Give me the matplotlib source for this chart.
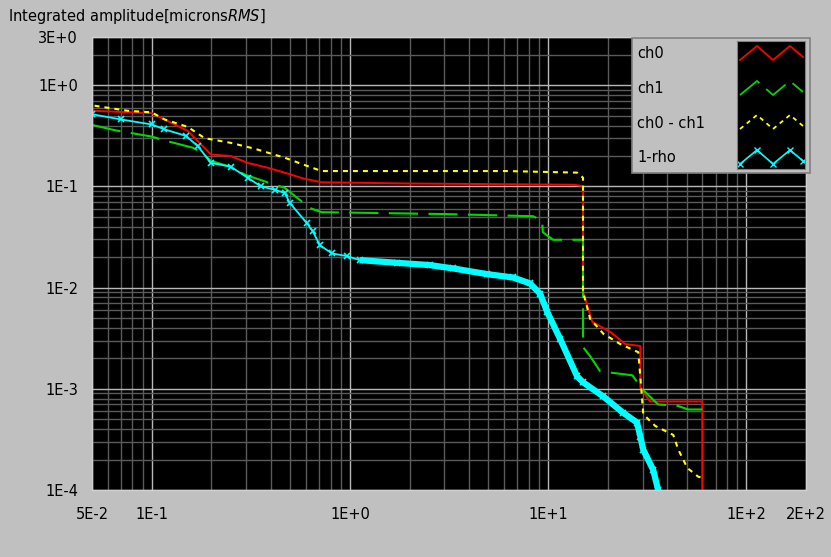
import matplotlib
matplotlib.use('Agg')
import matplotlib.pyplot as plt
from matplotlib.patches import Rectangle

# data (log-log)
ch0_x = [0.05, 0.1, 0.152, 0.199, 0.25, 0.305, 0.385, 0.486, 0.58, 0.72, 1.94, 13.4,
         15.0, 15.0, 16.7, 20.6, 24.5, 29.2, 29.2, 32.7, 60, 60]
ch0_y = [0.56, 0.53, 0.354, 0.207, 0.2, 0.171, 0.153, 0.134, 0.12, 0.110, 0.107, 0.104,
         0.101, 0.0091, 0.00459, 0.00365, 0.00277, 0.00265, 0.00103, 0.00075, 0.00075, 5e-5]

ch1_x = [0.05, 0.065, 0.101, 0.116, 0.162, 0.183, 0.199, 0.25, 0.295, 0.394, 0.47, 0.628,
         0.72, 3.09, 8.4, 9.33, 9.4, 10.6, 13.4, 15.0, 15.0, 16.3, 18.3, 26.6, 29.9, 35.9,
         44.9, 51, 60]
ch1_y = [0.406, 0.36, 0.31, 0.285, 0.241, 0.207, 0.179, 0.156, 0.131, 0.108, 0.0967, 0.0612,
         0.0557, 0.0533, 0.0508, 0.0457, 0.0353, 0.0297, 0.0297, 0.0297, 0.00259, 0.0021,
         0.00149, 0.00136, 0.00099, 0.0007, 0.00068, 0.000625, 0.000625]

diff_x = [0.0515, 0.0757, 0.1, 0.116, 0.152, 0.185, 0.25, 0.331, 0.47, 0.58, 0.72, 6.2,
          14.0, 15.0, 15.0, 16.3, 19.0, 23.1, 28.5, 29.2, 30.2, 34.7, 42.8, 45.4, 50.4,
          57.3, 60]
diff_y = [0.628, 0.56, 0.54, 0.46, 0.388, 0.30, 0.27, 0.236, 0.192, 0.165, 0.142, 0.142,
          0.137, 0.122, 0.0091, 0.0049, 0.0035, 0.00277, 0.0023, 0.00131, 0.00056, 0.00043,
          0.00035, 0.00025, 0.000165, 0.000135, 0.000133]

rho_x = [0.05, 0.0697, 0.1, 0.116, 0.149, 0.171, 0.199, 0.25, 0.305, 0.356, 0.418, 0.47,
         0.498, 0.607, 0.65, 0.705, 0.811, 0.966, 1.12, 1.73, 2.53, 3.31, 4.92, 6.65, 8.11,
         9.12, 9.88, 11.5, 14.0, 15.0, 19.0, 23.9, 28.1, 29.2, 30.2, 33.9, 35.9, 38]
rho_y = [0.518, 0.46, 0.41, 0.367, 0.316, 0.25, 0.171, 0.157, 0.122, 0.1, 0.093, 0.086,
         0.0685, 0.0434, 0.036, 0.0263, 0.0218, 0.0205, 0.0187, 0.0176, 0.0167, 0.0155,
         0.0136, 0.0126, 0.0110, 0.0087, 0.0058, 0.00311, 0.00133, 0.00116, 0.00084,
         0.00058, 0.000464, 0.000337, 0.00025, 0.000158, 0.0001, 8e-5]

labels = ['ch0', 'ch1', 'ch0 - ch1', '1-rho']
colors = ['#ff0000', '#00d800', '#ffff00', '#00ffff']
styles = ['-', (0, (14, 5)), (0, (2.4, 2.4)), '-']

xticks = [0.05, 0.1, 1, 10, 100, 200]
xticklabels = ['5E-2', '1E-1', '1E+0', '1E+1', '1E+2', '2E+2']
yticks = [1e-4, 1e-3, 1e-2, 1e-1, 1, 3]
yticklabels = ['1E-4', '1E-3', '1E-2', '1E-1', '1E+0', '3E+0']

fs = 10.5
bg = '#c0c0c0'
fig = plt.figure(figsize=(8.31, 5.57), dpi=100, facecolor=bg)
ax = fig.add_axes([92/831, 67/557, 714/831, 453/557])
ax.set_facecolor('black')
ax.set_xscale('log')
ax.set_yscale('log')
ax.set_xlim(0.05, 200)
ax.set_ylim(1e-4, 3)

ax.grid(True, which='minor', color='#5a5a5a', lw=1.0)
ax.grid(True, which='major', color='#b8b8b8', lw=1.0)
ax.set_axisbelow(True)

ax.set_xticks(xticks)
ax.set_xticklabels(xticklabels)
ax.set_yticks(yticks)
ax.set_yticklabels(yticklabels)
ax.tick_params(which='both', length=0, labelsize=fs)
ax.tick_params(axis='x', pad=12)
ax.tick_params(axis='y', pad=10)
for s in ax.spines.values():
    s.set_color('#d0d0d0')
    s.set_linewidth(1)

ax.plot(ch0_x, ch0_y, color=colors[0], lw=1.4, linestyle=styles[0])
ax.plot(ch1_x, ch1_y, color=colors[1], lw=1.5, linestyle=styles[1])
ax.plot(diff_x, diff_y, color=colors[2], lw=1.5, linestyle=styles[2])
ax.plot(rho_x, rho_y, color=colors[3], lw=1.3, marker='x', ms=5, mew=1.2)
# dense markers make the right part look like a thick band
ax.plot(rho_x[18:], rho_y[18:], color=colors[3], lw=4.5, solid_capstyle='butt')

fig.text(8/831, 1 - 16/557, 'Integrated amplitude[microns$\\it{RMS}$]',
         fontsize=fs, va='center', ha='left')

# legend box, drawn like the original panel
lg = Rectangle((632/831, 1 - 173/557), 178/831, 135/557, transform=fig.transFigure,
               facecolor=bg, edgecolor='#808080', lw=1.2, zorder=5)
fig.add_artist(lg)
lax = fig.add_axes([737/831, 1 - 169/557, 68/831, 128/557], zorder=6)
lax.set_facecolor('black')
lax.set_xlim(0, 68)
lax.set_ylim(128, 0)
lax.set_xticks([])
lax.set_yticks([])
for s in lax.spines.values():
    s.set_color('#808080')
zz_x = [3, 20, 36, 53, 66]
zz_dy = [6, -8, 6, -8, 3]
rows = [54, 89, 123, 158]
for i, lab in enumerate(labels):
    cy = rows[i] - 41
    ys = [cy + d for d in zz_dy]
    if i == 3:
        lax.plot(zz_x, ys, color=colors[i], lw=1.2, marker='x', ms=4)
    else:
        lax.plot(zz_x, ys, color=colors[i], lw=1.3, linestyle=styles[i])
    fig.text(637/831, 1 - rows[i]/557, lab, fontsize=fs, va='center', ha='left', zorder=7)

fig.savefig('out.png', dpi=100, facecolor=bg)
